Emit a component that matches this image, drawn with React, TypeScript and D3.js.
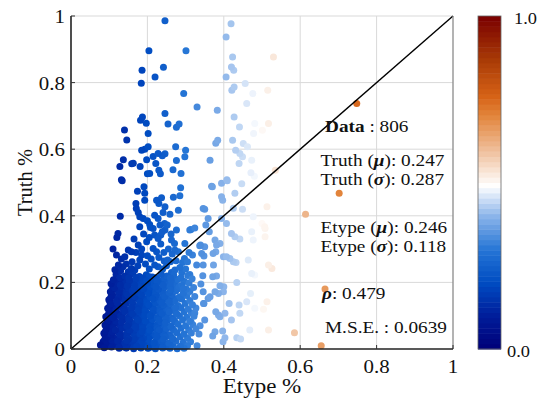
import React from "react";
import * as d3 from "d3";

type P = [number, number];

const xTicks = [0, 0.2, 0.4, 0.6, 0.8, 1];
const yTicks = [0, 0.2, 0.4, 0.6, 0.8, 1];
const xTickLabels = ["0", "0.2", "0.4", "0.6", "0.8", "1"];
const yTickLabels = ["0", "0.2", "0.4", "0.6", "0.8", "1"];
const colorStops = [0, 0.1, 0.2, 0.3, 0.4, 0.49, 0.6, 0.7, 0.76, 0.87, 1];
const colorValues = ["#000078", "#001d9a", "#004cc2", "#2676d6", "#8cb5ea", "#ffffff", "#efbd98", "#e2853c", "#d66216", "#a83a06", "#7a0000"];

const upperPoints: P[] = [
  [0.246,0.986],[0.204,0.896],[0.301,0.896],[0.242,0.846],[0.186,0.837],[0.220,0.817],[0.184,0.798],[0.295,0.767],[0.330,0.727],[0.246,0.707],[0.187,0.697],[0.182,0.687],[0.197,0.678],[0.254,0.676],[0.283,0.676],[0.276,0.666],[0.140,0.658],[0.202,0.647],[0.146,0.628],[0.202,0.607],[0.185,0.597],[0.193,0.600],[0.274,0.607],[0.300,0.597],[0.228,0.587],[0.239,0.580],[0.246,0.586],[0.215,0.578],[0.298,0.577],[0.137,0.568],[0.198,0.568],[0.276,0.566],[0.163,0.558],[0.159,0.556],[0.222,0.557],[0.128,0.548],[0.181,0.548],[0.230,0.537],[0.267,0.538],[0.206,0.527],[0.200,0.526],[0.234,0.526],[0.288,0.527],[0.132,0.508],[0.364,0.567],[0.383,0.717],[0.384,0.627],[0.379,0.618]
];

const midPoints: P[] = [
  [0.134,0.505],[0.191,0.487],[0.174,0.474],[0.193,0.468],[0.287,0.484],[0.224,0.447],[0.237,0.454],[0.230,0.437],[0.193,0.447],[0.268,0.456],[0.285,0.460],[0.170,0.437],[0.171,0.422],[0.176,0.410],[0.246,0.427],[0.241,0.410],[0.281,0.417],[0.129,0.399],[0.180,0.397],[0.189,0.392],[0.219,0.402],[0.228,0.392],[0.259,0.405],[0.245,0.377],[0.233,0.372],[0.206,0.374],[0.215,0.362],[0.180,0.367],[0.314,0.359],[0.246,0.357],[0.239,0.352],[0.123,0.347],[0.120,0.335],[0.276,0.357],[0.219,0.342],[0.228,0.332],[0.235,0.342],[0.263,0.327],[0.271,0.317],[0.198,0.322],[0.298,0.317],[0.337,0.310],[0.176,0.312],[0.110,0.300],[0.119,0.282],[0.150,0.297],[0.158,0.292],[0.215,0.302],[0.224,0.292],[0.272,0.297],[0.281,0.292],[0.309,0.290],[0.318,0.282],[0.342,0.287],[0.141,0.277],[0.132,0.270],[0.185,0.282],[0.180,0.267],[0.253,0.267],[0.244,0.264],[0.297,0.272],[0.292,0.260],[0.329,0.252],[0.346,0.252],[0.124,0.252],[0.136,0.247],[0.219,0.252],[0.228,0.247],[0.158,0.242],[0.167,0.237],[0.272,0.237],[0.263,0.230],[0.311,0.224],[0.294,0.182],[0.346,0.172],[0.324,0.363],[0.346,0.422],[0.311,0.357],[0.368,0.489],
  [0.200,0.385],[0.208,0.365],[0.252,0.372],[0.262,0.345],[0.205,0.335],[0.190,0.345],[0.255,0.300],[0.243,0.290],[0.200,0.280],[0.210,0.270],[0.160,0.262],[0.265,0.285],[0.285,0.245],[0.300,0.240],[0.150,0.232],[0.195,0.255],[0.240,0.240],[0.235,0.315],[0.165,0.330],[0.185,0.300],
  [0.130,0.235],[0.145,0.255],[0.175,0.250],[0.205,0.240],[0.250,0.250],[0.260,0.262],[0.290,0.230],[0.305,0.262],[0.170,0.290],[0.230,0.275],[0.115,0.238],[0.275,0.265]
];

const lightPoints: P[] = [
  [0.419,0.977],[0.406,0.937],[0.423,0.877],[0.420,0.847],[0.426,0.837],[0.406,0.817],[0.456,0.797],[0.427,0.787],[0.421,0.777],[0.476,0.767],[0.460,0.737],[0.427,0.697],[0.441,0.667],[0.481,0.677],[0.501,0.657],[0.478,0.647],[0.423,0.627],[0.451,0.617],[0.462,0.607],[0.431,0.597],[0.442,0.587],[0.449,0.577],[0.473,0.567],[0.440,0.557],[0.471,0.529],[0.480,0.519],[0.408,0.508],
  [0.370,0.487],[0.394,0.498],[0.409,0.505],[0.429,0.468],[0.447,0.496],[0.394,0.457],[0.397,0.447],[0.350,0.420],[0.425,0.423],[0.449,0.420],[0.359,0.392],[0.394,0.392],[0.477,0.397],[0.353,0.372],[0.407,0.377],[0.362,0.352],[0.420,0.347],[0.429,0.337],[0.442,0.330],[0.473,0.352],[0.477,0.327],[0.339,0.312],[0.350,0.307],[0.377,0.327],[0.381,0.312],[0.390,0.317],[0.372,0.287],[0.379,0.292],[0.348,0.279],[0.399,0.277],[0.407,0.277],[0.416,0.272],[0.425,0.262],[0.432,0.260],[0.464,0.267],[0.373,0.252],[0.473,0.227],[0.481,0.222],[0.371,0.217],[0.381,0.219],[0.434,0.200],[0.390,0.190],[0.400,0.187],[0.377,0.172],[0.386,0.167],[0.399,0.172],[0.470,0.167],[0.364,0.157],[0.359,0.152],[0.460,0.142],[0.348,0.137],[0.414,0.137],[0.440,0.132],[0.379,0.112],[0.386,0.102],[0.390,0.097],[0.403,0.107],[0.420,0.087],[0.442,0.107],[0.481,0.122],[0.350,0.087],[0.468,0.057],[0.377,0.052],[0.371,0.039],[0.397,0.054],[0.403,0.034],[0.398,0.022],[0.434,0.034],[0.444,0.030]
];

const paleWarmPoints: P[] = [
  [0.530,0.877],[0.515,0.777],[0.517,0.677],[0.535,0.537],[0.513,0.427],[0.507,0.367],[0.508,0.337],[0.517,0.252],[0.526,0.242],[0.513,0.142],[0.517,0.057],[0.504,0.119],[0.500,0.377],[0.508,0.362]
];

const orangePoints: P[] = [
  [0.748,0.737],[0.702,0.468],[0.614,0.405],[0.665,0.180],[0.585,0.049],[0.655,0.010]
];

const densePoints: P[] = [
  [0.118,0.224],[0.141,0.219],[0.162,0.226],[0.179,0.218],[0.197,0.223],[0.213,0.216],[0.236,0.225],[0.251,0.219],[0.269,0.222],[0.288,0.215],[0.306,0.221],
  [0.111,0.208],[0.130,0.213],[0.153,0.206],[0.170,0.211],[0.189,0.204],[0.207,0.210],[0.225,0.203],[0.245,0.212],[0.262,0.205],[0.280,0.209],[0.297,0.203],[0.317,0.211],
  [0.105,0.196],[0.125,0.200],[0.144,0.193],[0.161,0.199],[0.180,0.194],[0.200,0.198],[0.217,0.192],[0.236,0.199],[0.254,0.194],[0.273,0.197],[0.290,0.191],[0.309,0.198],
  [0.114,0.184],[0.134,0.188],[0.151,0.182],[0.171,0.187],[0.190,0.181],[0.208,0.186],[0.229,0.180],[0.246,0.187],[0.265,0.183],[0.283,0.187],[0.302,0.180],[0.321,0.185],
  [0.103,0.172],[0.123,0.176],[0.142,0.170],[0.160,0.175],[0.179,0.168],[0.199,0.174],[0.216,0.169],[0.237,0.175],[0.257,0.170],[0.274,0.174],[0.294,0.168],[0.311,0.173],
  [0.110,0.161],[0.130,0.158],[0.148,0.163],[0.168,0.157],[0.187,0.162],[0.207,0.156],[0.225,0.161],[0.245,0.158],[0.265,0.163],[0.285,0.157],[0.303,0.161],[0.324,0.158],
  [0.099,0.148],[0.119,0.145],[0.137,0.150],[0.157,0.144],[0.176,0.149],[0.195,0.146],[0.214,0.151],[0.233,0.145],[0.253,0.149],[0.271,0.144],[0.290,0.150],[0.311,0.146],
  [0.106,0.135],[0.126,0.132],[0.145,0.137],[0.165,0.131],[0.184,0.136],[0.203,0.133],[0.222,0.138],[0.242,0.132],[0.261,0.136],[0.280,0.131],[0.299,0.137],[0.318,0.133],
  [0.096,0.122],[0.115,0.119],[0.134,0.124],[0.153,0.118],[0.172,0.123],[0.191,0.120],[0.211,0.125],[0.230,0.119],[0.250,0.123],[0.269,0.118],[0.288,0.124],[0.307,0.120],[0.327,0.123],
  [0.103,0.110],[0.122,0.107],[0.141,0.112],[0.161,0.106],[0.180,0.111],[0.199,0.108],[0.219,0.113],[0.238,0.107],[0.257,0.111],[0.277,0.106],[0.296,0.112],[0.315,0.108],
  [0.091,0.097],[0.110,0.094],[0.130,0.099],[0.149,0.093],[0.168,0.098],[0.187,0.095],[0.207,0.100],[0.226,0.094],[0.246,0.098],[0.265,0.093],[0.284,0.099],[0.303,0.095],[0.322,0.098],
  [0.099,0.085],[0.118,0.082],[0.137,0.087],[0.156,0.081],[0.176,0.086],[0.195,0.083],[0.214,0.088],[0.234,0.082],[0.253,0.086],[0.273,0.081],[0.292,0.087],[0.311,0.083],
  [0.089,0.072],[0.108,0.069],[0.127,0.074],[0.146,0.068],[0.165,0.073],[0.184,0.070],[0.203,0.075],[0.222,0.069],[0.242,0.073],[0.261,0.068],[0.280,0.074],[0.300,0.070],[0.319,0.073],
  [0.096,0.060],[0.116,0.057],[0.135,0.062],[0.154,0.056],[0.173,0.061],[0.192,0.058],[0.212,0.063],[0.231,0.057],[0.250,0.061],[0.269,0.056],[0.288,0.062],[0.308,0.058],[0.327,0.061],
  [0.086,0.047],[0.105,0.044],[0.124,0.049],[0.143,0.043],[0.162,0.048],[0.181,0.045],[0.200,0.050],[0.220,0.044],[0.239,0.048],[0.258,0.043],[0.277,0.049],[0.296,0.045],[0.315,0.048],
  [0.094,0.035],[0.113,0.032],[0.132,0.037],[0.151,0.031],[0.170,0.036],[0.190,0.033],[0.209,0.038],[0.228,0.032],[0.247,0.036],[0.267,0.031],[0.286,0.037],[0.305,0.033],
  [0.084,0.022],[0.103,0.019],[0.122,0.024],[0.141,0.018],[0.160,0.023],[0.179,0.020],[0.198,0.025],[0.217,0.019],[0.237,0.023],[0.256,0.018],[0.275,0.024],[0.294,0.020],[0.313,0.022],
  [0.077,0.012],[0.096,0.009],[0.116,0.013],[0.134,0.007],[0.153,0.011],[0.172,0.008],[0.191,0.012],[0.210,0.006],[0.229,0.010],[0.248,0.007],[0.267,0.012],[0.286,0.008],[0.305,0.010],
  [0.126,0.002],[0.145,0.003],[0.164,0.001],[0.183,0.003],[0.202,0.002],[0.221,0.001],[0.240,0.003],[0.259,0.002],[0.278,0.001],[0.296,0.002],
  [0.347,0.137],[0.324,0.108],[0.314,0.082],[0.335,0.045],[0.340,0.195],[0.330,0.010],[0.338,0.070],[0.345,0.220]
];

const denseFillPoints: P[] = [
  [0.128,0.215],[0.151,0.214],[0.170,0.215],[0.188,0.213],[0.205,0.217],[0.224,0.214],[0.243,0.216],[0.260,0.213],
  [0.118,0.203],[0.140,0.201],[0.162,0.204],[0.179,0.202],[0.198,0.205],[0.216,0.200],[0.235,0.205],[0.253,0.201],[0.271,0.204],
  [0.109,0.190],[0.129,0.192],[0.148,0.189],[0.166,0.192],[0.185,0.188],[0.204,0.191],[0.222,0.187],[0.241,0.192],[0.260,0.189],
  [0.108,0.178],[0.128,0.180],[0.146,0.177],[0.165,0.181],[0.184,0.176],[0.203,0.179],[0.222,0.176],[0.241,0.180],[0.261,0.177],[0.279,0.180],
  [0.106,0.166],[0.126,0.168],[0.145,0.165],[0.164,0.167],[0.183,0.164],[0.203,0.168],[0.221,0.164],[0.241,0.167],[0.261,0.165],
  [0.104,0.155],[0.124,0.153],[0.143,0.156],[0.162,0.152],[0.181,0.155],[0.200,0.151],[0.220,0.155],[0.239,0.152],[0.259,0.156],[0.278,0.152],
  [0.102,0.141],[0.122,0.139],[0.141,0.143],[0.161,0.139],[0.180,0.142],[0.199,0.140],[0.218,0.144],[0.238,0.139],[0.257,0.142],
  [0.101,0.128],[0.120,0.126],[0.139,0.130],[0.159,0.125],[0.178,0.129],[0.197,0.127],[0.216,0.131],[0.236,0.126],[0.255,0.129],[0.274,0.125],
  [0.099,0.116],[0.118,0.113],[0.138,0.117],[0.157,0.112],[0.176,0.116],[0.195,0.114],[0.215,0.118],[0.234,0.113],[0.253,0.117],[0.273,0.112],
  [0.097,0.103],[0.116,0.101],[0.135,0.105],[0.155,0.100],[0.174,0.104],[0.193,0.102],[0.213,0.106],[0.232,0.101],[0.251,0.104],
  [0.095,0.091],[0.114,0.088],[0.133,0.092],[0.153,0.087],[0.172,0.091],[0.191,0.089],[0.210,0.093],[0.230,0.088],[0.249,0.092],[0.269,0.087],
  [0.094,0.078],[0.113,0.076],[0.132,0.080],[0.151,0.075],[0.170,0.079],[0.190,0.077],[0.209,0.081],[0.228,0.075],[0.247,0.079],
  [0.092,0.066],[0.111,0.063],[0.130,0.067],[0.150,0.062],[0.169,0.066],[0.188,0.064],[0.207,0.068],[0.226,0.063],[0.246,0.067],[0.265,0.062],
  [0.090,0.053],[0.109,0.051],[0.128,0.055],[0.148,0.050],[0.167,0.054],[0.186,0.052],[0.206,0.056],[0.225,0.050],[0.244,0.054],
  [0.089,0.041],[0.108,0.038],[0.128,0.042],[0.147,0.037],[0.166,0.041],[0.185,0.039],[0.204,0.043],[0.224,0.038],[0.243,0.042],[0.262,0.037],
  [0.088,0.028],[0.108,0.026],[0.127,0.030],[0.146,0.025],[0.165,0.029],[0.184,0.027],[0.203,0.031],[0.223,0.025],[0.242,0.029],
  [0.090,0.016],[0.109,0.014],[0.128,0.018],[0.147,0.013],[0.166,0.017],[0.185,0.015],[0.204,0.019],[0.223,0.013],[0.242,0.017],[0.261,0.012],
  [0.087,0.004],[0.106,0.006],[0.125,0.005],[0.144,0.004],[0.163,0.006],[0.182,0.005],[0.201,0.004],[0.220,0.006],[0.239,0.005]
];

const W = 539, H = 400;
const plotLeft = 71, plotRight = 453, plotTop = 16, plotBottom = 349;
const cbLeft = 478, cbRight = 501;
const serif = "'Liberation Serif', 'Times New Roman', serif";
const STRETCH = 1.16;

function T({ x, y, size, anchor = "start", sx = STRETCH, children, rotate = 0 }: any) {
  return (
    <text
      transform={`translate(${x},${y}) rotate(${rotate}) scale(${sx},1)`}
      textAnchor={anchor}
      fontSize={size}
      fill="#111"
    >
      {children}
    </text>
  );
}

export default function App() {
  const x = d3.scaleLinear().domain([0, 1]).range([plotLeft, plotRight]);
  const y = d3.scaleLinear().domain([0, 1]).range([plotBottom, plotTop]);
  const cmap = d3.scaleLinear<string>().domain(colorStops).range(colorValues).interpolate(d3.interpolateRgb).clamp(true);
  const cbY = d3.scaleLinear().domain([0, 1]).range([plotBottom, plotTop]);
  const nBands = 64;
  const bands = d3.range(nBands);
  const allPoints: P[] = [...densePoints, ...denseFillPoints, ...midPoints, ...upperPoints, ...lightPoints, ...paleWarmPoints, ...orangePoints];
  // mixed drawing order (like an unsorted scatter), data values unchanged
  const n = allPoints.length;
  const order = d3.range(n).sort((a, b) => ((a * 7919) % 1013) - ((b * 7919) % 1013));
  const line = d3.line<P>().x(d => x(d[0])).y(d => y(d[1]));

  const annX = 320.5;
  const fs = 16.6;
  return (
    <div style={{ position: "fixed", left: 0, top: 0, width: W, height: H, background: "#fff" }}>
      <svg width={W} height={H} style={{ display: "block" }} fontFamily={serif}>
        <rect x={0} y={0} width={W} height={H} fill="#fff" />
        {xTicks.slice(1, -1).map(t => (
          <line key={"gx" + t} x1={x(t)} x2={x(t)} y1={plotTop} y2={plotBottom} stroke="#d9d9d9" strokeWidth={1} />
        ))}
        {yTicks.slice(1).map(t => (
          <line key={"gy" + t} x1={plotLeft} x2={plotRight} y1={y(t)} y2={y(t)} stroke="#d9d9d9" strokeWidth={1} />
        ))}
        {order.map(i => {
          const p = allPoints[i];
          return <circle key={i} cx={x(p[0])} cy={y(p[1])} r={3.5} fill={cmap(p[0])} />;
        })}
        <path d={line([[0, 0], [1, 1]]) || ""} stroke="#000" strokeWidth={1.4} fill="none" />
        <line x1={plotRight} x2={plotRight} y1={plotTop} y2={plotBottom} stroke="#8a8a8a" strokeWidth={1.3} />
        <line x1={plotLeft} x2={plotLeft} y1={plotTop} y2={plotBottom} stroke="#222" strokeWidth={1.6} />
        <line x1={plotLeft} x2={plotRight} y1={plotBottom} y2={plotBottom} stroke="#222" strokeWidth={1.6} />
        {xTicks.map(t => (
          <line key={"tx" + t} x1={x(t)} x2={x(t)} y1={plotBottom} y2={plotBottom - 4} stroke="#333" strokeWidth={1} />
        ))}
        {yTicks.map(t => (
          <line key={"ty" + t} x1={plotLeft} x2={plotLeft + 4} y1={y(t)} y2={y(t)} stroke="#333" strokeWidth={1} />
        ))}
        {xTicks.map((t, i) => (
          <T key={"lx" + t} x={x(t)} y={373} size={19} anchor="middle" sx={1.1}>{xTickLabels[i]}</T>
        ))}
        {yTicks.map((t, i) => (
          <T key={"ly" + t} x={plotLeft - 6} y={y(t) + 7} size={19} anchor="end" sx={1.1}>{yTickLabels[i]}</T>
        ))}
        <T x={262} y={393} size={20} anchor="middle" sx={1.15}>Etype %</T>
        <T x={32} y={(plotTop + plotBottom) / 2} size={20.5} anchor="middle" rotate={-90} sx={1}>Truth %</T>
        <T x={325} y={132} size={fs}><tspan fontWeight="bold">Data</tspan> : 806</T>
        <T x={annX} y={166} size={fs}>Truth (<tspan fontStyle="italic" fontWeight="bold">μ</tspan>): 0.247</T>
        <T x={annX} y={185} size={fs}>Truth (<tspan fontStyle="italic" fontWeight="bold">σ</tspan>): 0.287</T>
        <T x={annX} y={233} size={fs}>Etype (<tspan fontStyle="italic" fontWeight="bold">μ</tspan>): 0.246</T>
        <T x={annX} y={252} size={fs}>Etype (<tspan fontStyle="italic" fontWeight="bold">σ</tspan>): 0.118</T>
        <T x={322} y={299} size={fs}><tspan fontStyle="italic" fontWeight="bold">ρ</tspan>: 0.479</T>
        <T x={325} y={333} size={fs}>M.S.E. : 0.0639</T>
        {bands.map(b => {
          const v0 = b / nBands, v1 = (b + 1) / nBands;
          return (
            <rect key={"cb" + b} x={cbLeft} width={cbRight - cbLeft} y={cbY(v1)} height={cbY(v0) - cbY(v1) + 0.5} fill={cmap((v0 + v1) / 2)} />
          );
        })}
        <rect x={cbLeft} y={plotTop} width={cbRight - cbLeft} height={plotBottom - plotTop} fill="none" stroke="#666" strokeWidth={0.8} />
        <T x={514} y={24} size={17.5} sx={1.05}>1.0</T>
        <T x={507} y={357} size={17.5} sx={1.05}>0.0</T>
      </svg>
    </div>
  );
}
